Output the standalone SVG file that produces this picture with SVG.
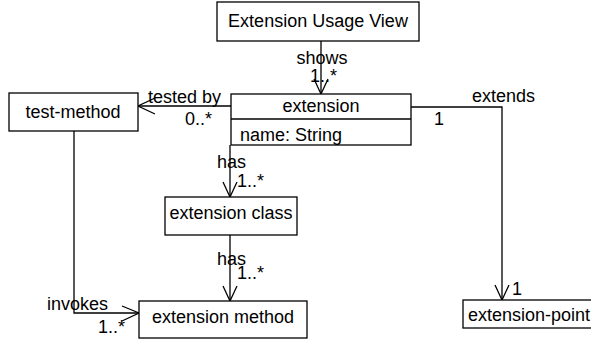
<svg xmlns="http://www.w3.org/2000/svg" width="591" height="343" viewBox="0 0 591 343">
<style>
text{font-family:"Liberation Sans",Arial,sans-serif;font-size:18px;fill:#000}
.box{fill:#fff;stroke:#000;stroke-width:1.3}
.ln{fill:none;stroke:#000;stroke-width:1.3}
.mid{text-anchor:middle}
</style>
<rect width="591" height="343" fill="#fff"/>
<g id="connectors">
<g id="shows"><path class="ln" d="M321,41 V94"/><path class="ln" d="M314,79 L321,94 L328,79"/>
<text x="322" y="64" class="mid">shows</text><text x="310" y="82">1..*</text></g>
<g id="tested"><path class="ln" d="M231,106 H138"/><path class="ln" d="M155,98 L138,106 L155,114"/>
<text x="148" y="103">tested by</text><text x="185" y="125">0..*</text></g>
<g id="extends"><path class="ln" d="M411,107 H502 V300"/><path class="ln" d="M495,285 L502,300 L509,285"/>
<text x="472" y="102">extends</text><text x="434" y="125">1</text><text x="512" y="295">1</text></g>
<g id="has1"><path class="ln" d="M230,145 V197"/><path class="ln" d="M223,182 L230,197 L237,182"/>
<text x="217" y="168">has</text><text x="237" y="187">1..*</text></g>
<g id="has2"><path class="ln" d="M230,235 V301"/><path class="ln" d="M223,286 L230,301 L237,286"/>
<text x="217" y="265">has</text><text x="237" y="279">1..*</text></g>
<g id="invokes"><path class="ln" d="M74,131 V313 H139"/><path class="ln" d="M122,306 L139,313 L122,321"/>
<text x="47" y="310">invokes</text><text x="98" y="333">1..*</text></g>
</g>
<g id="usage-view"><rect class="box" x="217" y="2" width="202" height="39"/><text x="318" y="27" class="mid">Extension Usage View</text></g>
<g id="extension"><rect class="box" x="231" y="94" width="180" height="51"/><path class="ln" d="M231,119 H411"/>
<text x="321" y="112" class="mid">extension</text><text x="240" y="141">name: String</text></g>
<g id="test-method"><rect class="box" x="9" y="93" width="129" height="38"/><text x="73" y="118" class="mid">test-method</text></g>
<g id="extension-class"><rect class="box" x="165" y="197" width="132" height="38"/><text x="231" y="219" class="mid">extension class</text></g>
<g id="extension-method"><rect class="box" x="139" y="301" width="168" height="37"/><text x="223" y="323" class="mid">extension method</text></g>
<g id="extension-point"><rect class="box" x="463" y="300" width="135" height="28"/><text x="468" y="321">extension-point</text></g>
</svg>
